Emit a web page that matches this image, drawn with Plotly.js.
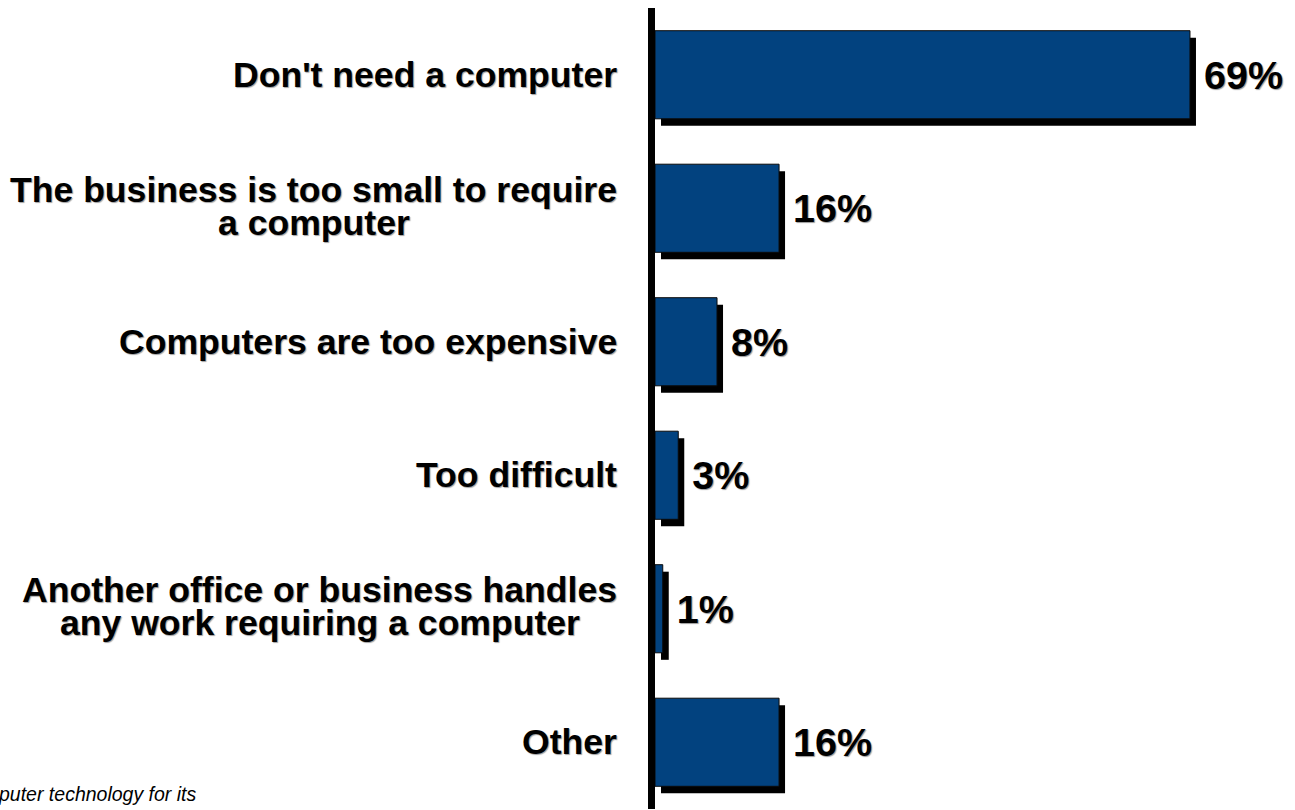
<!DOCTYPE html>
<html>
<head>
<meta charset="utf-8">
<script src="https://cdn.plot.ly/plotly-3.0.1.min.js"></script>
<style>
  html, body { margin: 0; padding: 0; background: #ffffff; }
  #chart { width: 1295px; height: 810px; }
</style>
</head>
<body>
<div id="chart"></div>
<script>
// ---- data ----
const categories = [
  "Don't need a computer",
  "The business is too small to require<br>a computer",
  "Computers are too expensive",
  "Too difficult",
  "Another office or business handles<br>any work requiring a computer",
  "Other"
];
const values = [69, 16, 8, 3, 1, 16];
const valueLabels = ["69%", "16%", "8%", "3%", "1%", "16%"];
const footnoteText = "puter technology for its";

// ---- styling / geometry ----
const W = 1295, H = 810;
const marginL = 655, marginR = 5, marginT = 8, marginB = 1;
const plotW = W - marginL - marginR;
const plotH = H - marginT - marginB;
const xMax = 81.9;
const pxPerUnit = plotW / xMax;
const shadowDx = 6, shadowDy = 7;
const nCat = categories.length;
const catPx = plotH / nCat;
const dxUnits = shadowDx / pxPerUnit;
const dyUnits = shadowDy / catPx;

const barColor = '#02427F';
const labelFont = {family: 'Liberation Sans, Arial, sans-serif', size: 35.6, color: '#000000', weight: 700, shadow: '1px 1px 1px #a0a0a0'};

const shadow = {
  type: 'bar', orientation: 'h',
  x: values, y: categories,
  xaxis: 'x', yaxis: 'y',
  marker: {color: '#000000', line: {width: 0}},
  hoverinfo: 'skip', showlegend: false
};

const main = {
  type: 'bar', orientation: 'h',
  x: values, y: categories,
  xaxis: 'x2', yaxis: 'y2',
  marker: {color: barColor, line: {width: 1, color: '#0a0a0a'}},
  text: valueLabels.map(t => ' ' + t),
  textposition: 'outside',
  constraintext: 'none',
  cliponaxis: false,
  textfont: {family: 'Liberation Sans, Arial, sans-serif', size: 39.5, color: '#000000', weight: 700, shadow: '1px 1px 1px #9a9a9a'},
  hoverinfo: 'skip', showlegend: false
};

// category labels as centered multi-line annotations
const annotations = [];
const lineStep = 33;
categories.forEach((cat, i) => {
  const lines = cat.split('<br>');
  const n = lines.length;
  lines.forEach((ln, j) => {
    annotations.push({
      xref: 'paper', yref: 'y2',
      x: (619 - marginL) / plotW, y: i,
      xanchor: 'right', yanchor: 'middle',
      text: ln, showarrow: false, align: 'center',
      yshift: ((n - 1) / 2 - j) * lineStep + (n > 1 ? 2 : 0),
      xshift: 0,
      font: labelFont
    });
  });
});

annotations.push({
  xref: 'paper', yref: 'paper',
  x: (199 - marginL) / plotW, y: 0,
  xanchor: 'right', yanchor: 'bottom',
  yshift: 2,
  text: footnoteText, showarrow: false,
  font: {family: 'Liberation Sans, Arial, sans-serif', size: 19.5, color: '#000000', style: 'italic'}
});

const hiddenX = {showgrid: false, zeroline: false, showticklabels: false, ticks: '', showline: false, fixedrange: true};

const layout = {
  width: W, height: H,
  margin: {l: marginL, r: marginR, t: marginT, b: marginB, pad: 0},
  paper_bgcolor: '#ffffff', plot_bgcolor: 'rgba(0,0,0,0)',
  bargap: 0.34,
  showlegend: false,
  xaxis: Object.assign({}, hiddenX, {range: [-dxUnits, xMax - dxUnits]}),
  xaxis2: Object.assign({}, hiddenX, {range: [0, xMax], overlaying: 'x'}),
  yaxis: {
    type: 'category', categoryorder: 'array', categoryarray: categories,
    range: [nCat - 0.5 - dyUnits, -0.5 - dyUnits],
    showgrid: false, zeroline: false, showticklabels: false, ticks: '',
    showline: true, linewidth: 7, linecolor: '#000000', fixedrange: true
  },
  yaxis2: {
    type: 'category', categoryorder: 'array', categoryarray: categories,
    range: [nCat - 0.5, -0.5], overlaying: 'y',
    showgrid: false, zeroline: false, showticklabels: false, ticks: '', showline: false, fixedrange: true
  },
  annotations: annotations
};

Plotly.newPlot('chart', [shadow, main], layout, {displayModeBar: false, staticPlot: true}).then(gd => {
  // center the lines of multi-line labels on each other (widest line right-aligned at the anchor)
  const anns = gd.layout.annotations.slice();
  let idx = 0;
  const nodes = gd.querySelectorAll('.annotation');
  const widths = [];
  nodes.forEach(nd => { widths.push(nd.getBBox().width); });
  categories.forEach((cat) => {
    const lines = cat.split('<br>');
    if (lines.length > 1) {
      const ws = lines.map((_, j) => widths[idx + j]);
      const maxW = Math.max.apply(null, ws);
      lines.forEach((_, j) => { anns[idx + j].xshift = -(maxW - ws[j]) / 2; });
    }
    idx += lines.length;
  });
  Plotly.relayout(gd, {annotations: anns});
});
</script>
</body>
</html>
